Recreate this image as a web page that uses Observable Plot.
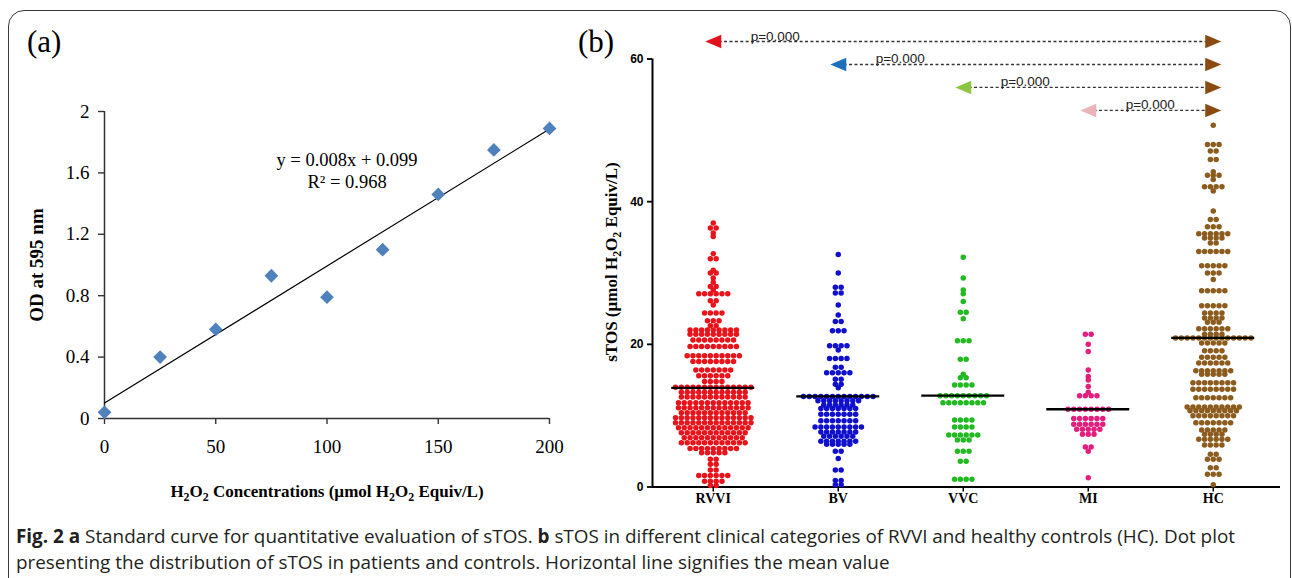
<!DOCTYPE html>
<html><head><meta charset="utf-8">
<script src="https://cdn.jsdelivr.net/npm/d3@7"></script>
<script src="https://cdn.jsdelivr.net/npm/@observablehq/plot@0.6"></script>
<style>
html,body{margin:0;padding:0;background:#fff;}
body{width:1292px;height:578px;position:relative;overflow:hidden;}
#frame{position:absolute;left:8px;top:10px;width:1283px;height:640px;border:1.6px solid #3a3a3a;border-radius:16px;box-sizing:border-box;z-index:10;pointer-events:none;}
.abs{position:absolute;white-space:nowrap;}
.serif{font-family:"Liberation Serif","Times New Roman",serif;color:#000;}
.center{transform:translate(-50%,-50%);}
.rot{transform:translate(-50%,-50%) rotate(-90deg);}
sub{font-size:70%;vertical-align:-0.3em;line-height:0;}
#panelA{position:absolute;left:0;top:0;width:580px;height:510px;}
#panelB{position:absolute;left:580px;top:0;width:712px;height:510px;}
#caption{left:16px;top:523px;line-height:26px;color:#231f20;font-family:"Open Sans","Liberation Sans",sans-serif;font-size:19px;transform-origin:0 0;}
#caption b{font-weight:bold;}
</style>
</head><body>
<div id="panelA"></div>
<div id="panelB"></div>
<div class="abs serif" style="left:27px;top:24px;font-size:31px;">(a)</div>
<div class="abs serif" style="left:578px;top:24px;font-size:31px;">(b)</div>
<div class="abs serif rot" style="left:37px;top:265px;font-size:19px;font-weight:bold;">OD at 595 nm</div>
<div class="abs serif center" style="left:327px;top:492px;font-size:17px;font-weight:bold;">H<sub>2</sub>O<sub>2</sub> Concentrations (µmol H<sub>2</sub>O<sub>2</sub> Equiv/L)</div>
<div class="abs serif rot" style="left:612px;top:262px;font-size:17px;font-weight:bold;">sTOS (µmol H<sub>2</sub>O<sub>2</sub> Equiv/L)</div>
<div id="caption" class="abs">
<div><span id="cap1"><b>Fig. 2</b> <b>a</b> Standard curve for quantitative evaluation of sTOS. <b>b</b> sTOS in different clinical categories of RVVI and healthy controls (HC). Dot plot</span></div>
<div>presenting the distribution of sTOS in patients and controls. Horizontal line signifies the mean value</div>
</div>
<div id="frame"></div>
<script>
// ---------- Panel (a) data ----------
const concentration = [0, 25, 50, 75, 100, 125, 150, 175, 200];
const od = [0.04, 0.40, 0.58, 0.93, 0.79, 1.10, 1.46, 1.75, 1.89];
const equationLines = ["y = 0.008x + 0.099", "R² = 0.968"];
const xTicksA = [0, 50, 100, 150, 200];
const yTicksA = [0, 0.4, 0.8, 1.2, 1.6, 2];

// ---------- Panel (b) data: rows of [sTOS value, number of dots] ----------
const categories = ["RVVI", "BV", "VVC", "MI", "HC"];
const rvvi = [[37.0,1],[36.3,2],[35.6,1],[35.1,1],[32.7,1],[32.0,2],[30.4,1],[30.0,2],[29.3,1],
  [28.7,1],[28.1,2],[27.6,1],[27.1,6],[26.1,2],[25.5,1],[24.4,4],[23.3,3],[22.6,2],
  [22.0,9],[21.4,9],[20.6,8],[19.7,9],[18.4,10],[17.6,8],[16.4,7],[15.6,6],[14.8,4],[14.0,14],
  [13.3,12],[12.6,12],[11.8,13],[11.1,13],[10.4,12],[9.7,14],[9.0,14],[8.3,13],[7.6,12],[6.9,11],
  [6.2,12],[5.4,9],[4.8,5],[3.9,2],[3.2,2],[2.4,2],[1.6,6],[0.8,4],[0.2,2]];
const bv = [[32.6,1],[30.0,1],[28.0,2],[27.2,2],[25.5,1],[24.1,1],[23.2,2],[21.9,3],
  [19.8,4],[19.2,1],[18.0,4],[16.8,2],[16.0,5],[15.1,2],[14.4,2],[13.9,1],
  [12.7,13],[12.1,8],[11.5,6],[11.0,7],[10.2,7],[9.3,7],[8.4,9],[7.7,7],[7.1,6],[6.4,7],[6.0,5],
  [5.0,2],[4.0,1],[2.4,2],[0.9,2],[0.3,2]];
const vvc = [[32.2,1],[29.3,1],[27.6,1],[27.1,1],[26.0,1],[24.5,2],[23.6,1],[20.5,3],[17.9,2],
  [15.8,1],[15.3,2],[14.3,4],[12.8,9],[11.8,8],[9.4,4],[8.4,4],[7.3,6],[6.6,3],[5.0,3],[3.6,2],[1.1,4]];
const mi = [[21.4,2],[20.0,1],[19.0,1],[16.4,1],[15.5,1],[15.0,1],[14.1,1],[13.3,1],[12.8,4],
  [10.9,8],[9.6,6],[8.8,6],[8.1,5],[7.4,3],[5.6,2],[5.0,1],[1.3,1]];
const hc = [[50.7,1],[48.0,3],[47.1,2],[45.9,2],[44.2,1],[43.7,3],[43.1,1],[42.1,4],[41.5,1],
  [38.7,1],[37.5,2],[36.5,3],[35.5,6],[34.9,4],[34.2,2],[33.0,6],[31.0,5],[30.0,3],[29.1,1],[27.5,5],[25.4,5],
  [24.4,4],[23.7,4],[23.1,3],[22.2,6],[21.4,4],[20.9,14],[20.2,5],[19.1,4],[18.2,5],[17.4,6],[16.3,7],
  [15.8,5],[14.6,8],[13.7,8],[12.5,7],[11.2,10],[10.7,9],[10.0,8],[9.0,7],[8.0,5],[7.4,4],[6.7,6],[5.9,4],
  [4.6,2],[3.9,3],[2.7,2],[1.8,3],[0.3,1]];
const groupRows = [rvvi, bv, vvc, mi, hc];
const means = [13.9, 12.7, 12.8, 10.9, 20.9];
const dotColors = ["#e8141c", "#1010cc", "#22b922", "#e21f7c", "#8c5c1e"];
const comparisons = [["RVVI","HC","p=0.000"],["BV","HC","p=0.000"],["VVC","HC","p=0.000"],["MI","HC","p=0.000"]];
const markerColors = {RVVI:"#e3101e", BV:"#1f6fbf", VVC:"#8cc640", MI:"#e8b4b8", HC:"#8b4a12"};
const yTicksB = [0, 20, 40, 60];

// ---------- Panel (a) ----------
const serif = "'Liberation Serif','Times New Roman',serif";
const pts = concentration.map((c, i) => ({c, od: od[i]}));
const plotA = Plot.plot({
  width: 580, height: 510,
  marginLeft: 104, marginRight: 31, marginTop: 111, marginBottom: 92,
  style: {fontFamily: serif, fontSize: "19px", color: "#000", background: "transparent"},
  x: {domain: [0, 200]},
  y: {domain: [0, 2]},
  marks: [
    Plot.axisX({ticks: xTicksA, tickSize: 6, tickPadding: 15, label: null, stroke: "#333", strokeWidth: 1.4}),
    Plot.axisY({ticks: yTicksA, tickSize: 6, tickPadding: 9, label: null, stroke: "#333", strokeWidth: 1.4,
      tickFormat: d => String(+d.toFixed(1))}),
    Plot.ruleX([0], {stroke: "#333", strokeWidth: 1.5}),
    Plot.ruleY([0], {stroke: "#333", strokeWidth: 1.5}),
    Plot.linearRegressionY(pts, {x: "c", y: "od", ci: 0, stroke: "#000", strokeWidth: 1.2}),
    Plot.dot(pts, {x: "c", y: "od", symbol: "diamond2", r: 6.2, fill: "#4f81bd"}),
    Plot.text([equationLines.join("\n")], {x: 109, y: 1.62, text: d => d, fontSize: 18.5, lineHeight: 1.22, fill: "#000"})
  ]
});
document.getElementById("panelA").appendChild(plotA);

// ---------- Panel (b) ----------
const bW = 712, bH = 510, bML = 72, bMR = 12, bMT = 58.5, bMB = 23.5;
const xDomain = [-0.486, 4.538];
const pxPerUnit = (bW - bML - bMR) / (xDomain[1] - xDomain[0]);
const dotSpacing = 5.8;
const dots = [];
groupRows.forEach((rows, gi) => rows.forEach(([v, n]) => {
  for (let k = 0; k < n; k++) dots.push({gi, v, off: (k - (n - 1) / 2) * dotSpacing / pxPerUnit});
}));
const meanData = means.map((m, gi) => ({gi, m}));
const halfLine = 41.5 / pxPerUnit;
const arrows = comparisons.map(([from, to, p], i) => ({
  from: categories.indexOf(from), to: categories.indexOf(to), p,
  fromColor: markerColors[from], toColor: markerColors[to],
  row: 62.45 - 3.22 * i
}));
const triLeft = {draw(ctx, size) { const r = Math.sqrt(size / Math.PI); ctx.moveTo(-r, 0); ctx.lineTo(r, -r * 0.85); ctx.lineTo(r, r * 0.85); ctx.closePath(); }};
const triRight = {draw(ctx, size) { const r = Math.sqrt(size / Math.PI); ctx.moveTo(r, 0); ctx.lineTo(-r, -r * 0.85); ctx.lineTo(-r, r * 0.85); ctx.closePath(); }};

const plotB = Plot.plot({
  width: bW, height: bH,
  marginLeft: bML, marginRight: bMR, marginTop: bMT, marginBottom: bMB,
  style: {fontFamily: "'Liberation Sans',Arial,sans-serif", fontSize: "12px", color: "#000", background: "transparent", overflow: "visible"},
  x: {domain: xDomain},
  y: {domain: [0, 60]},
  color: {type: "identity"},
  marks: [
    Plot.axisY({ticks: yTicksB, tickSize: 5, tickPadding: 4, label: null, fontWeight: "bold", fontSize: 12,
      fontFamily: "'Liberation Sans',Arial,sans-serif", stroke: "#000", strokeWidth: 1.8}),
    Plot.axisX({ticks: [0, 1, 2, 3, 4], tickFormat: i => categories[i], tickSize: 5, tickPadding: 1, label: null,
      fontWeight: "bold", fontSize: 14, fontFamily: serif, stroke: "#000", strokeWidth: 1.5}),
    Plot.ruleX([xDomain[0]], {y1: 0, y2: 60, stroke: "#000", strokeWidth: 2}),
    Plot.ruleY([0], {stroke: "#000", strokeWidth: 2}),
    Plot.dot(dots, {x: d => d.gi + d.off, y: "v", r: 2.75, fill: d => dotColors[d.gi]}),
    Plot.ruleY(meanData, {y: "m", x1: d => d.gi - halfLine, x2: d => d.gi + halfLine, stroke: "#000", strokeWidth: 2.3}),
    Plot.link(arrows, {x1: "from", x2: "to", y1: "row", y2: "row", stroke: "#333", strokeWidth: 1.3, strokeDasharray: "3,2.4"}),
    Plot.dot(arrows, {x: "from", y: "row", symbol: triLeft, r: 8, fill: "fromColor"}),
    Plot.dot(arrows, {x: "to", y: "row", symbol: triRight, r: 8, fill: "toColor"}),
    Plot.text(arrows, {x: "from", y: "row", text: "p", dx: 62, dy: -1, lineAnchor: "bottom", fontSize: 13.5,
      fontFamily: "'Liberation Sans',Arial,sans-serif", fill: "#222"})
  ]
});
document.getElementById("panelB").appendChild(plotB);

// fit caption line width to reference (horizontal condensing like the original narrow face)
const cap1 = document.getElementById("cap1");
const w = cap1.getBoundingClientRect().width;
const capEl = document.getElementById("caption");
capEl.style.transform = "scaleX(" + (1219 / w) + ")";
</script>
</body></html>
